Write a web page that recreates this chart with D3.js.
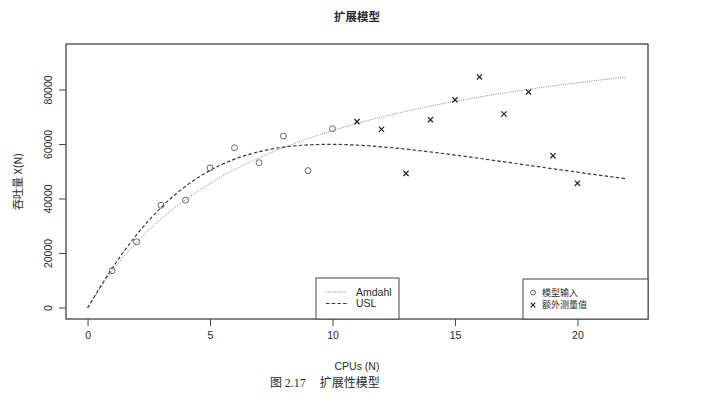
<!DOCTYPE html>
<html><head><meta charset="utf-8">
<script src="https://cdn.jsdelivr.net/npm/d3@7"></script>
<style>body{margin:0;background:#fff;}svg{display:block;}</style>
</head><body>
<script>
// ---- data ----
const inputN = [1,2,3,4,5,6,7,8,9,10];
const inputX = [13700,24300,37700,39600,51400,58800,53300,63100,50400,65800];
const extraN = [11,12,13,14,15,16,17,18,19,20];
const extraX = [68400,65600,49400,69100,76400,84800,71200,79300,55900,45800];
const curveN = [0,1,2,3,4,5,6,7,8,9,10,11,12,13,14,15,16,17,18,19,20,21,22];
const amdahlX = [0,13500,24120,32700,39770,45690,50740,55080,58850,62170,65100,67720,70060,72170,74090,75840,77430,78900,80250,81500,82650,83730,84730];
const uslX = [0,14500,26850,36880,44680,50490,54610,57360,59020,59850,60050,59770,59160,58300,57270,56120,54900,53650,52370,51100,49840,48600,47400];
const xTicks = [0,5,10,15,20];
const yTicks = [0,20000,40000,60000,80000];
const title = "扩展模型";
const xLabel = "CPUs (N)";
const yLabel = "吞吐量 X(N)";
const lineLegend = ["Amdahl","USL"];
const pointLegend = ["模型输入","额外测量值"];

// ---- layout ----
const W = 724, H = 406;
const L = 66, R = 648, T = 44, B = 319;
const svg = d3.select("body").append("svg").attr("width", W).attr("height", H);
const x = d3.scaleLinear().domain([-0.88, 22.88]).range([L, R]);
const y = d3.scaleLinear().domain([-4040, 96880]).range([B, T]);
const ink = "#2a2a2a";
const sans = "'Liberation Sans', Arial, sans-serif";
const cjk = "'Noto Sans CJK SC', sans-serif";

// title
svg.append("text").attr("x", 357).attr("y", 21).attr("text-anchor","middle")
  .attr("font-family", cjk).attr("font-size", 11.5).attr("font-weight", 700).attr("fill", ink).text(title);

// axes
const xAxis = svg.append("g").attr("transform", `translate(0,${B})`)
  .call(d3.axisBottom(x).tickValues(xTicks).tickSize(7).tickPadding(6).tickFormat(d3.format("d")));
const yAxis = svg.append("g").attr("transform", `translate(${L},0)`)
  .call(d3.axisLeft(y).tickValues(yTicks).tickSize(7).tickFormat(d3.format("d")));
[xAxis, yAxis].forEach(g => {
  g.select(".domain").remove();
  g.selectAll("line").attr("stroke", "#444").attr("stroke-width", 1);
  g.selectAll("text").attr("font-family", sans).attr("font-size", 10.5).attr("fill", ink);
});
xAxis.selectAll("line").attr("y1", 0);
yAxis.selectAll("text").attr("transform", function(d){ return `rotate(-90, ${-18}, ${y(d)})`; })
  .attr("x", -18).attr("dy", "0.35em").attr("text-anchor", "middle");
yAxis.selectAll(".tick").each(function(d){
  d3.select(this).attr("transform", null);
  d3.select(this).select("line").attr("y1", y(d)).attr("y2", y(d));
  d3.select(this).select("text").attr("y", y(d));
});
xAxis.selectAll(".tick text").attr("dy", "0.71em");

// box
svg.append("rect").attr("x", L).attr("y", T).attr("width", R-L).attr("height", B-T)
  .attr("fill","none").attr("stroke","#444").attr("stroke-width",1.3);

// axis labels
svg.append("text").attr("x", 357).attr("y", 370).attr("text-anchor","middle")
  .attr("font-family", sans).attr("font-size", 10.5).attr("fill", ink).text(xLabel);
svg.append("text").attr("transform", `translate(22,${(T+B)/2}) rotate(-90)`).attr("text-anchor","middle")
  .attr("font-family", cjk).attr("font-size", 11).attr("fill", ink).text(yLabel);

// curves
const line = d3.line().x((d,i)=>x(curveN[i])).y(d=>y(d)).curve(d3.curveMonotoneX);
svg.append("path").datum(amdahlX).attr("d", line).attr("fill","none")
  .attr("stroke","#8a8a8a").attr("stroke-width",1).attr("stroke-dasharray","1,1.2");
svg.append("path").datum(uslX).attr("d", line).attr("fill","none")
  .attr("stroke","#3a3a3a").attr("stroke-width",1.2).attr("stroke-dasharray","3.5,2.2");

// points
svg.selectAll("circle.inp").data(inputN).join("circle").attr("class","inp")
  .attr("cx", d=>x(d)).attr("cy", (d,i)=>y(inputX[i])).attr("r", 3)
  .attr("fill","none").attr("stroke","#666").attr("stroke-width",1);
const cross = (g, cx, cy, s) => {
  g.append("path").attr("d", `M${cx-s},${cy-s}L${cx+s},${cy+s}M${cx-s},${cy+s}L${cx+s},${cy-s}`)
   .attr("stroke","#222").attr("stroke-width",1.2).attr("fill","none");
};
const cg = svg.append("g");
extraN.forEach((n,i)=>cross(cg, x(n), y(extraX[i]), 2.6));

// legend 1 (lines)
svg.append("rect").attr("x",316).attr("y",278).attr("width",83).attr("height",B-278)
  .attr("fill","#fff").attr("stroke","#444").attr("stroke-width",1);
const lstyles = [["#8a8a8a","1,1.2",1],["#3a3a3a","3.5,2.2",1.2]];
lineLegend.forEach((t,i)=>{
  const yy = 292 + i*11.5;
  svg.append("line").attr("x1",326).attr("x2",347).attr("y1",yy).attr("y2",yy)
    .attr("stroke",lstyles[i][0]).attr("stroke-dasharray",lstyles[i][1]).attr("stroke-width",lstyles[i][2]);
  svg.append("text").attr("x",356).attr("y",yy).attr("dy","0.35em")
    .attr("font-family",sans).attr("font-size",10.5).attr("fill",ink).text(t);
});
// legend 2 (points)
svg.append("rect").attr("x",523).attr("y",279).attr("width",R-523).attr("height",B-279)
  .attr("fill","#fff").attr("stroke","#444").attr("stroke-width",1);
pointLegend.forEach((t,i)=>{
  const yy = 292.5 + i*12.5;
  if(i===0) svg.append("circle").attr("cx",533).attr("cy",yy).attr("r",2.5)
    .attr("fill","none").attr("stroke","#666");
  else cross(svg, 533, yy, 2.3);
  svg.append("text").attr("x",542).attr("y",yy).attr("dy","0.35em")
    .attr("font-family",cjk).attr("font-size",9).attr("fill",ink).text(t);
});

// caption
const cap = svg.append("text").attr("x",270).attr("y",387).attr("fill",ink).attr("font-size",12);
cap.append("tspan").attr("font-family",cjk).text("图 ");
cap.append("tspan").attr("font-family","'Liberation Serif', serif").text("2.17");
cap.append("tspan").attr("font-family",cjk).attr("dx",14).text("扩展性模型");
</script>
</body></html>
